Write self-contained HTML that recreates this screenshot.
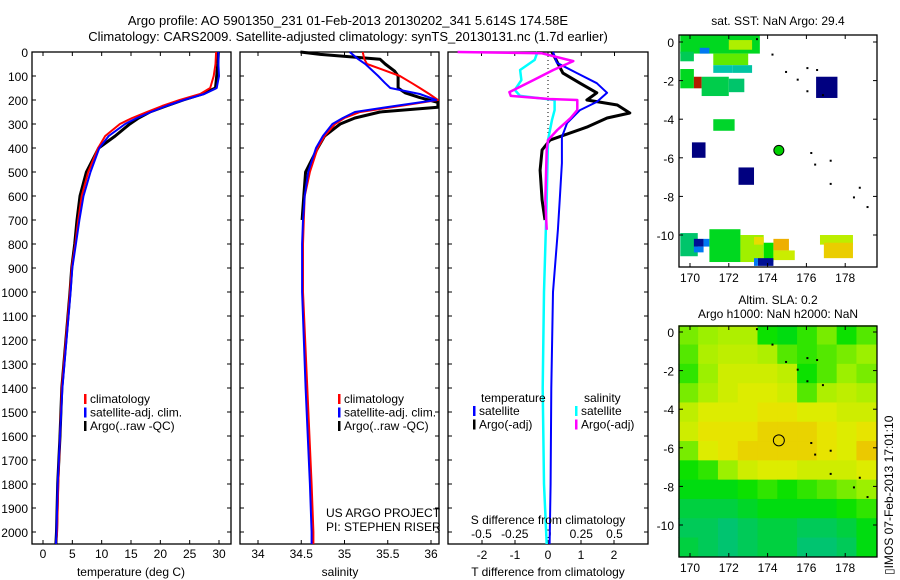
<!DOCTYPE html>
<html><head><meta charset="utf-8"><style>
html,body{margin:0;padding:0;background:#fff}
svg{display:block;font-family:"Liberation Sans",sans-serif}
text{font-size:12px;fill:#000}
</style></head><body>
<svg id="fig" width="900" height="580" viewBox="0 0 900 580" xmlns="http://www.w3.org/2000/svg">
<text x="348" y="25" text-anchor="middle" style="font-size:13px">Argo profile: AO 5901350_231 01-Feb-2013 20130202_341 5.614S 174.58E</text>
<text x="348" y="41" text-anchor="middle" style="font-size:13px">Climatology: CARS2009. Satellite-adjusted climatology: synTS_20130131.nc (1.7d earlier)</text>
<g id="layer"></g>
<text transform="translate(893,575) rotate(-90)" style="font-size:12px">▯IMOS 07-Feb-2013 17:01:10</text>
</svg>
<script>
// ---------- DATA ----------
const tDepth = [0,50,100,150,175,200,225,250,275,300,350,400,500,600,700,800,900,1000,1400,1600,1800,2000,2050];
const tClim  = [29.5,29.4,29.1,28.5,26.8,23.3,20.3,17.7,15.2,13.1,10.6,9.4,7.7,6.6,6.0,5.5,4.9,4.6,3.2,2.9,2.6,2.4,2.2];
const tSat   = [29.9,29.9,30.0,29.6,27.5,24.0,21.0,18.4,16.0,14.0,11.2,9.6,8.1,6.9,6.2,5.6,5.0,4.7,3.3,2.9,2.5,2.3,2.2];
const tArgo  = [29.9,29.8,29.6,29.4,27.2,23.9,21.0,18.2,16.3,14.8,12.3,9.5,7.4,6.3,5.8,5.4,4.9,4.6,3.2,2.9,2.5,2.3,2.2];
const sDepth = [0,30,50,100,130,150,175,200,225,250,275,300,350,400,500,600,700,800,1000,1400,1800,2000,2050];
const sClim  = [35.21,35.23,35.26,35.64,35.78,35.87,35.98,36.08,35.64,35.18,35.0,34.89,34.77,34.69,34.6,34.54,34.53,34.52,34.52,34.57,34.62,34.64,34.64];
const sSat   = [35.06,35.16,35.24,35.39,35.47,35.53,35.87,36.06,35.58,35.12,34.98,34.86,34.75,34.67,34.58,34.54,34.52,34.51,34.51,34.55,34.6,34.62,34.62];
const sArgoDepth = [0,10,20,30,50,80,100,150,170,190,210,230,250,275,300,350,400,500,600,700];
const sArgo  = [34.49,34.72,35.06,35.41,35.47,35.58,35.62,35.62,35.7,35.87,36.08,36.08,35.41,35.12,34.95,34.77,34.69,34.55,34.53,34.51];
const dDepth = [0,45,88,130,170,208,242,296,354,463,604,741,1000,1400,1800,2050];
const dTSat  = [0.15,0.27,0.88,1.48,1.79,1.48,0.97,0.58,0.42,0.42,0.36,0.30,0.15,0.1,0.08,0.05];
const dTArgoDepth = [0,88,130,170,200,221,254,275,313,367,408,492,617,700];
const dTArgo = [0.12,0.45,0.97,1.48,1.18,2.1,2.48,1.79,1.18,0.06,-0.18,-0.24,-0.18,-0.09];
const dSDepth = [0,33,75,117,158,183,200,242,283,367,617,1000,1400,1800,2050];
const dSSat  = [-0.08,-0.1,-0.21,-0.2,-0.25,-0.21,0.05,0.05,0.03,0.0,-0.01,-0.03,-0.04,-0.03,-0.01];
const dSArgoDepth = [0,5,38,75,117,167,183,196,200,242,275,325,367,408,617,741];
const dSArgo = [-0.68,-0.05,0.19,0.04,-0.11,-0.29,-0.28,0.01,0.22,0.22,0.17,0.07,0.0,-0.01,-0.02,-0.01];
const depthTicks = [0,100,200,300,400,500,600,700,800,900,1000,1100,1200,1300,1400,1500,1600,1700,1800,1900,2000];
const tTicks = [0,5,10,15,20,25,30];
const sTicks = [34,34.5,35,35.5,36];
const dTTicks = [-2,-1,0,1,2];
const dSTicks = [-0.5,-0.25,0,0.25,0.5];
const dSTickLabels = ["-0.5","-0.25","0","0.25","0.5"];
const lonTicks = [170,172,174,176,178];
const latTicks = [0,-2,-4,-6,-8,-10];
const sstPatches = [
 [169.5,0.35,173.6,-0.6,0.47],[172,0.1,173.2,-0.4,0.62],[170.5,-0.3,171,-0.6,0.15],[169.5,-0.5,170.2,-1.0,0.42],
 [171.2,-0.6,173.0,-1.2,0.56],[171.2,-1.2,172.2,-1.6,0.3],[172.2,-1.2,173.2,-1.6,0.32],
 [169.5,-1.4,170.2,-2.4,0.47],[170.2,-1.8,170.6,-2.4,0.97],[170.6,-1.8,172.0,-2.8,0.43],[172.0,-1.9,172.8,-2.6,0.4],
 [171.2,-4.0,172.3,-4.6,0.46],
 [169.5,-9.9,170.4,-11.1,0.4],[170.2,-10.2,170.7,-10.6,0.02],[170.7,-10.2,171,-10.6,0.15],[170.2,-10.6,170.7,-10.9,0.15],
 [171,-9.7,172.6,-11.4,0.47],[172.6,-10,173.8,-11.4,0.6],[173.3,-10.1,173.8,-10.5,0.72],[173.8,-10.4,174.3,-11.4,0.5],
 [174.3,-10.2,175.1,-10.8,0.78],[174.3,-10.8,175.4,-11.3,0.66],[173.5,-11.2,174.3,-11.6,0.02],[173.3,-11.2,173.5,-11.6,0.15],
 [176.7,-10,178.4,-10.5,0.64],[176.9,-10.4,178.4,-11.2,0.74],
 [176.5,-1.8,177.6,-2.9,0.0],[170.1,-5.2,170.8,-6.0,0.0],[172.5,-6.5,173.3,-7.4,0.0]
];
const slaGrid = [
 [0.5,0.55,0.6,0.6,0.35,0.3,0.4,0.5,0.35,0.45],
 [0.45,0.6,0.65,0.65,0.6,0.45,0.4,0.45,0.5,0.55],
 [0.4,0.55,0.7,0.7,0.7,0.65,0.35,0.45,0.55,0.5],
 [0.5,0.6,0.7,0.75,0.75,0.7,0.45,0.6,0.65,0.6],
 [0.65,0.75,0.75,0.75,0.8,0.8,0.75,0.75,0.7,0.7],
 [0.7,0.8,0.8,0.8,0.85,0.85,0.85,0.8,0.75,0.8],
 [0.5,0.75,0.8,0.85,0.85,0.85,0.85,0.8,0.75,0.88],
 [0.35,0.4,0.55,0.7,0.75,0.75,0.7,0.7,0.7,0.75],
 [0.3,0.3,0.3,0.35,0.4,0.35,0.4,0.45,0.5,0.55],
 [0.2,0.2,0.2,0.25,0.3,0.3,0.3,0.3,0.35,0.4],
 [0.15,0.15,0.1,0.15,0.2,0.2,0.15,0.15,0.2,0.3],
 [0.2,0.15,0.1,0.15,0.2,0.2,0.1,0.1,0.15,0.3]
];
const islands = [[173.4,0.2],[174.2,-0.6],[174.9,-1.5],[176.0,-1.3],[176.5,-1.4],[175.5,-1.9],[176.0,-2.5],[176.8,-2.7],[176.2,-5.7],[176.4,-6.3],[177.2,-6.1],[177.2,-7.3],[178.4,-8.0],[178.7,-7.5],[179.1,-8.5]];
const argoLon = 174.58, argoLat = -5.614;

// ---------- DRAW ----------
const NS='http://www.w3.org/2000/svg';
const L=document.getElementById('layer');
function el(tag,attrs,parent){const e=document.createElementNS(NS,tag);for(const k in attrs)e.setAttribute(k,attrs[k]);(parent||L).appendChild(e);return e;}
function txt(x,y,s,anchor,parent){const t=el('text',{x:x,y:y,'text-anchor':anchor||'start'},parent);t.textContent=s;return t;}
const Y0=52, YK=0.24;
function yD(d){return Y0+d*YK;}
const BOT=yD(2050);

function panel(x0,x1,name){
 const g=el('g',{});
 
 
 el('rect',{x:x0,y:Y0,width:x1-x0,height:BOT-Y0,fill:'none',stroke:'#000','stroke-width':1.3},g);
 depthTicks.forEach(d=>{el('line',{x1:x0,x2:x0+4,y1:yD(d),y2:yD(d),stroke:'#000'},g);el('line',{x1:x1,x2:x1-4,y1:yD(d),y2:yD(d),stroke:'#000'},g);});
 return g;
}
function line(g,xs,ds,sx,color,w,name){
 const p=el('polyline',{points:xs.map((v,i)=>sx(v).toFixed(1)+','+yD(ds[i]).toFixed(1)).join(' '),fill:'none',stroke:color,'stroke-width':w,'stroke-linejoin':'round'},g);
 
 
}
function xticks(g,ticks,sx,labels,ly){
 ticks.forEach((t,i)=>{el('line',{x1:sx(t),x2:sx(t),y1:BOT,y2:BOT-4,stroke:'#000'},g);el('line',{x1:sx(t),x2:sx(t),y1:Y0,y2:Y0+4,stroke:'#000'},g);
  const tx=txt(sx(t),ly,labels?labels[i]:String(t),'middle',g);
  
  });
}
function legend(g,x,y,items){
 items.forEach((it,i)=>{el('rect',{x:x,y:y+i*13.5-9,width:2.5,height:10,fill:it[0]},g);const t=txt(x+6,y+i*13.5,it[1],'start',g);
  
  });
}
const sT=v=>43+v*5.867;
const g1=panel(32,231,'temperature-panel');
depthTicks.forEach(d=>{const t=txt(28,yD(d)+5,String(d),'end',g1);
 
 });
xticks(g1,tTicks,sT,null,558);
line(g1,tArgo,tDepth,sT,'#000',3,'argo-temperature-line');
line(g1,tClim,tDepth,sT,'#f00',2,'climatology-temperature-line');
line(g1,tSat,tDepth,sT,'#00f',2,'satellite-temperature-line');
legend(g1,84,403,[['#f00','climatology'],['#00f','satellite-adj. clim.'],['#000','Argo(..raw -QC)']]);
txt(131,576,'temperature (deg C)','middle',g1);
const sS=v=>258+(v-34)*86.5;
const g2=panel(240,439,'salinity-panel');
xticks(g2,sTicks,sS,null,558);
line(g2,sArgo,sArgoDepth,sS,'#000',3,'argo-salinity-line');
line(g2,sClim,sDepth,sS,'#f00',2,'climatology-salinity-line');
line(g2,sSat,sDepth,sS,'#00f',2,'satellite-salinity-line');
legend(g2,338,403,[['#f00','climatology'],['#00f','satellite-adj. clim.'],['#000','Argo(..raw -QC)']]);
txt(326,517,'US ARGO PROJECT','start',g2);
txt(326,531,'PI: STEPHEN RISER','start',g2);
txt(340,576,'salinity','middle',g2);
const sDT=v=>548+v*33, sDS=v=>548+v*133;
const g3=panel(448,648,'difference-panel');
el('line',{x1:548,x2:548,y1:Y0,y2:145,stroke:'#000','stroke-dasharray':'1,3'},g3);
dTTicks.forEach(t=>{el('line',{x1:sDT(t),x2:sDT(t),y1:BOT,y2:BOT-4,stroke:'#000'},g3);txt(sDT(t),559,String(t),'middle',g3);});
dSTicks.forEach((t,i)=>{el('line',{x1:sDS(t),x2:sDS(t),y1:Y0,y2:Y0+4,stroke:'#000'},g3);txt(sDS(t),538,dSTickLabels[i],'middle',g3);});
line(g3,dTArgo,dTArgoDepth,sDT,'#000',3,'argo-t-diff-line');
line(g3,dSSat,dSDepth,sDS,'#0ff',2.5,'satellite-s-diff-line');
line(g3,dTSat,dDepth,sDT,'#00f',2,'satellite-t-diff-line');
line(g3,dSArgo,dSArgoDepth,sDS,'#f0f',2.5,'argo-s-diff-line');
txt(481,402,'temperature','start',g3);
txt(584,402,'salinity','start',g3);
legend(g3,473,415,[['#00f','satellite'],['#000','Argo(-adj)']]);
legend(g3,575,415,[['#0ff','satellite'],['#f0f','Argo(-adj)']]);
txt(548,524,'S difference from climatology','middle',g3);
txt(548,576,'T difference from climatology','middle',g3);

const cStops=[[0,[0,0,128]],[0.12,[0,96,255]],[0.25,[0,200,200]],[0.38,[0,192,128]],[0.5,[0,224,0]],[0.6,[160,240,0]],[0.7,[230,235,0]],[0.8,[240,160,0]],[0.9,[224,96,0]],[1,[160,0,0]]];
function cmap(v){v=Math.max(0,Math.min(1,v));for(let i=1;i<cStops.length;i++){if(v<=cStops[i][0]){const a=cStops[i-1],b=cStops[i],f=(v-a[0])/(b[0]-a[0]);return 'rgb('+a[1].map((c,j)=>Math.round(c+(b[1][j]-c)*f)).join(',')+')';}}return 'rgb(160,0,0)';}
function mapFrame(yTop,yBot,lat0Y,name,title1,title2){
 const g=el('g',{});
 
 
 const sx=lon=>690+(lon-170)*19.4, sy=lat=>lat0Y-lat*19.3;
 return {g,sx,sy,finish:()=>{
  el('rect',{x:679,y:yTop,width:198,height:yBot-yTop,fill:'none',stroke:'#000','stroke-width':1.3},g);
  lonTicks.forEach(t=>{el('line',{x1:sx(t),x2:sx(t),y1:yBot,y2:yBot-4,stroke:'#000'},g);el('line',{x1:sx(t),x2:sx(t),y1:yTop,y2:yTop+4,stroke:'#000'},g);txt(sx(t),yBot+15,String(t),'middle',g);});
  latTicks.forEach(t=>{el('line',{x1:679,x2:683,y1:sy(t),y2:sy(t),stroke:'#000'},g);el('line',{x1:877,x2:873,y1:sy(t),y2:sy(t),stroke:'#000'},g);txt(674,sy(t)+5,String(t),'end',g);});
  txt(778,yTop-(title2?22:10),title1,'middle',g);
  if(title2)txt(778,yTop-8,title2,'middle',g);
 }};
}
const m1=mapFrame(35,267,42,'sst-map','sat. SST: NaN Argo: 29.4');
sstPatches.forEach(p=>{const r=el('rect',{x:m1.sx(p[0]),y:m1.sy(p[1]),width:m1.sx(p[2])-m1.sx(p[0]),height:m1.sy(p[3])-m1.sy(p[1]),fill:cmap(p[4])},m1.g);
 
 });
islands.forEach(p=>el('rect',{x:m1.sx(p[0]),y:m1.sy(p[1]),width:2,height:2,fill:'#000'},m1.g));
el('circle',{cx:m1.sx(argoLon),cy:m1.sy(argoLat),r:5,fill:'#00d000',stroke:'#000'},m1.g);
m1.finish();
const m2=mapFrame(326,557,332,'sla-map','Altim. SLA: 0.2','Argo h1000: NaN h2000: NaN');
slaGrid.forEach((row,i)=>row.forEach((v,j)=>{
 const lon0=169.4+j*1.02, lat0=0.35-i*1.0;
 const r=el('rect',{x:m2.sx(lon0),y:m2.sy(lat0),width:19.4*1.02+0.5,height:19.8,fill:cmap(0.35+v*0.45)},m2.g);
 
 
}));
islands.forEach(p=>el('rect',{x:m2.sx(p[0]),y:m2.sy(p[1]),width:2,height:2,fill:'#000'},m2.g));
el('circle',{cx:m2.sx(argoLon),cy:m2.sy(argoLat),r:5.5,fill:'none',stroke:'#000'},m2.g);
m2.finish();
</script>
</body></html>
